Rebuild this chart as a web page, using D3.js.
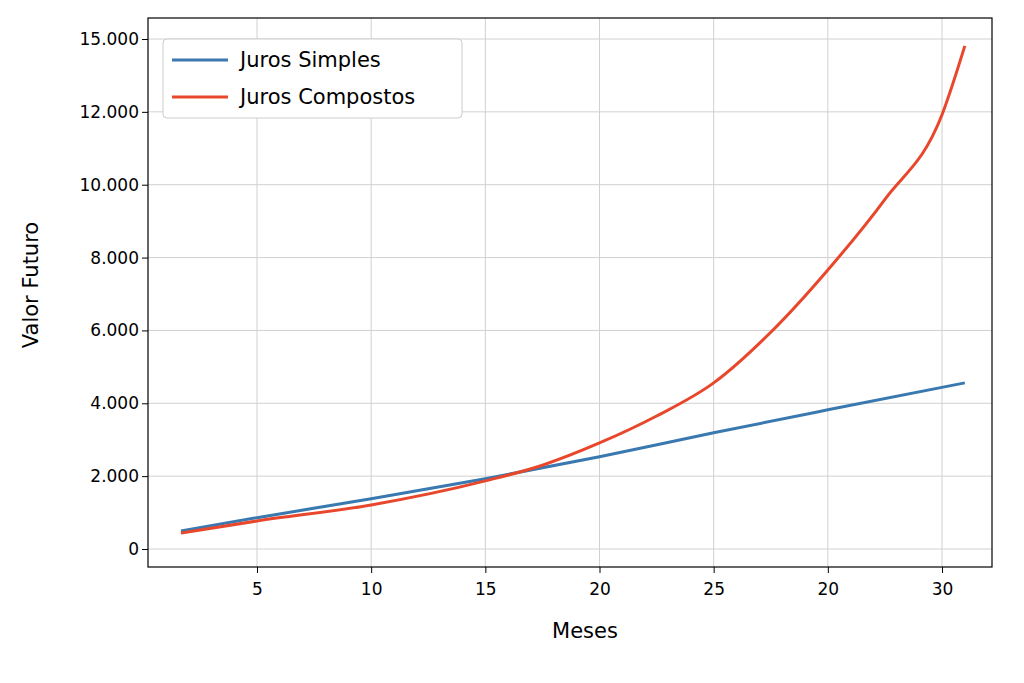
<!DOCTYPE html><html><head><meta charset="utf-8">
<script src="https://cdn.jsdelivr.net/npm/d3@7"></script>
<style>body{margin:0;background:#fff}text{font-family:"DejaVu Sans",sans-serif}</style></head><body>
<svg id="c" width="1024" height="683"></svg>
<script>
const simplesX=[1.67,5,10,15,20,25,30,36];
const simplesY=[495,860,1380,1930,2530,3190,3820,4560];
const compostosX=[1.67,5,10,15,17.5,20,22.5,25,27.5,30,32.5,35,36];
const compostosY=[440,770,1210,1870,2300,2910,3650,4560,5950,7660,9600,11920,13810];
const xTicks=[5,10,15,20,25,30,35];
const xTickLabels=["5","10","15","20","25","20","30"];
const yTicks=[0,2000,4000,6000,8000,10000,12000,14000];
const yTickLabels=["0","2.000","4.000","6.000","8.000","10.000","12.000","15.000"];
const L=148,R=992,T=18,B=567;
const x=d3.scaleLinear().domain([5,35]).range([257,942]);
const y=d3.scaleLinear().domain([0,14000]).range([549,39]);
const svg=d3.select("#c");
const g=svg.append("g");
g.selectAll(".gx").data(xTicks).join("line").attr("x1",d=>x(d)).attr("x2",d=>x(d)).attr("y1",T).attr("y2",B).attr("stroke","#d0d0d0").attr("stroke-width",1);
g.selectAll(".gy").data(yTicks).join("line").attr("y1",d=>y(d)).attr("y2",d=>y(d)).attr("x1",L).attr("x2",R).attr("stroke","#d0d0d0").attr("stroke-width",1);
const line=d3.line().x(d=>x(d[0])).y(d=>y(d[1])).curve(d3.curveMonotoneX);
svg.append("path").attr("d",line(simplesX.map((v,i)=>[v,simplesY[i]]))).attr("fill","none").attr("stroke","#3a78b0").attr("stroke-width",3);
svg.append("path").attr("d",line(compostosX.map((v,i)=>[v,compostosY[i]]))).attr("fill","none").attr("stroke","#e8472b").attr("stroke-width",3);
svg.append("rect").attr("x",L).attr("y",T).attr("width",R-L).attr("height",B-T).attr("fill","none").attr("stroke","#000").attr("stroke-width",1.2);
const xa=svg.append("g").attr("transform",`translate(0,${B})`).call(d3.axisBottom(x).tickValues(xTicks).tickFormat((d,i)=>xTickLabels[i]).tickSizeOuter(0).tickSize(6));
const ya=svg.append("g").attr("transform",`translate(${L},0)`).call(d3.axisLeft(y).tickValues(yTicks).tickFormat((d,i)=>yTickLabels[i]).tickSizeOuter(0).tickSize(6));
[xa,ya].forEach(a=>{a.select(".domain").remove();a.selectAll("text").attr("font-size",17).attr("fill","#000").style("font-family","DejaVu Sans");a.selectAll("line").attr("stroke","#000");});
xa.selectAll("text").attr("dy","1.1em");
svg.append("text").attr("x",585).attr("y",638).attr("text-anchor","middle").attr("font-size",21).text("Meses");
svg.append("text").attr("transform","translate(38,285) rotate(-90)").attr("text-anchor","middle").attr("font-size",21).text("Valor Futuro");
const lg=svg.append("g");
lg.append("rect").attr("x",163).attr("y",39).attr("width",299).attr("height",79).attr("rx",4).attr("fill","#fff").attr("stroke","#ccc");
[["Juros Simples","#3a78b0",60],["Juros Compostos","#e8472b",97]].forEach(([t,c,yy])=>{
lg.append("line").attr("x1",172).attr("x2",228).attr("y1",yy).attr("y2",yy).attr("stroke",c).attr("stroke-width",3);
lg.append("text").attr("x",240).attr("y",yy+7).attr("font-size",21).text(t);});
</script></body></html>
